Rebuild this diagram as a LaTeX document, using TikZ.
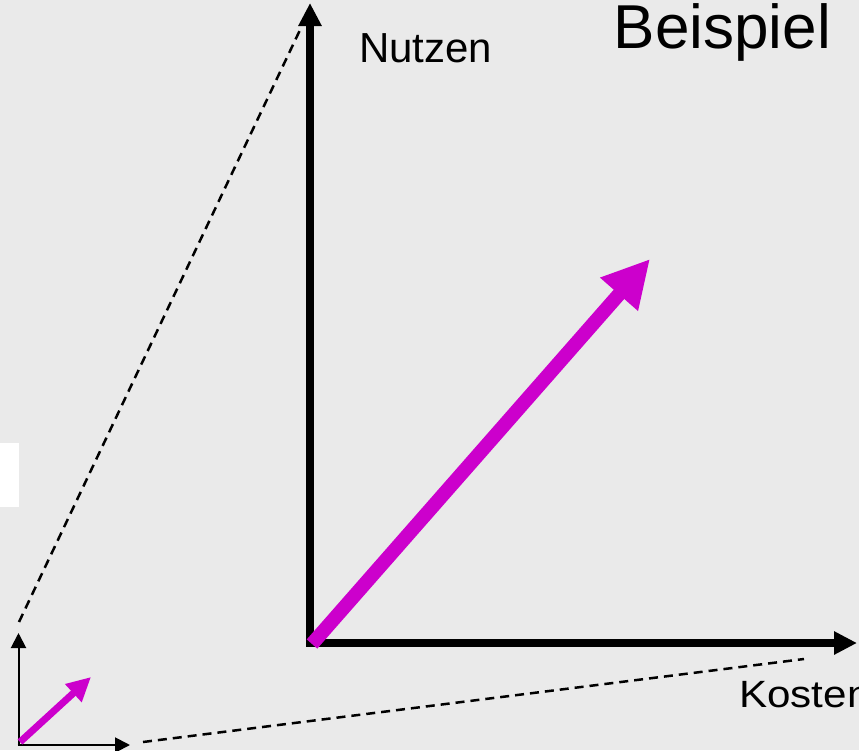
\documentclass[tikz,border=0pt]{standalone}
\usepackage{fontspec}
\setmainfont{Liberation Sans}
\usetikzlibrary{arrows.meta}
\definecolor{bg}{HTML}{EAEAEA}
\definecolor{mag}{HTML}{CC00CC}
\tikzset{
  bigaxis/.style={line width=8pt,-{Triangle[length=23pt,width=22pt]}},
  smallaxis/.style={line width=2pt,-{Triangle[length=15pt,width=15pt]}},
  bigvec/.style={mag,line width=14pt,-{Triangle[length=47pt,width=47pt]}},
  smallvec/.style={mag,line width=7pt,-{Triangle[length=24pt,width=23pt]}},
  dashline/.style={line width=2.5pt,dash pattern=on 9pt off 6pt},
  lbl/.style={inner sep=0pt,anchor=base west}
}
\begin{document}
\begin{tikzpicture}[x=1pt,y=-1pt]
\fill[bg] (0,0) rectangle (859,750);
\useasboundingbox (0,0) rectangle (859,750);
\fill[white] (0,443) rectangle (19,507);
% coordinates
\coordinate (O) at (310,643);
\coordinate (Ytip) at (310,3);
\coordinate (Xtip) at (857,643);
\coordinate (Vs) at (312,644);
\coordinate (Vt) at (650,259);
\coordinate (o) at (18.5,745);
\coordinate (ytip) at (18.5,633);
\coordinate (xtip) at (130,745);
\coordinate (vs) at (20,742);
\coordinate (vt) at (91,677);
\coordinate (d1a) at (19,622);
\coordinate (d1b) at (300,30);
\coordinate (d2a) at (143,742);
\coordinate (d2b) at (804,659);
% dashed projection lines
\draw[dashline] (d1a) -- (d1b);
\draw[dashline] (d2a) -- (d2b);
% big axes
\draw[bigaxis] ([yshift=4pt]O) -- (Ytip);
\draw[bigaxis] ([xshift=-4pt]O) -- (Xtip);
% small axes
\draw[smallaxis] ([yshift=1pt]o) -- (ytip);
\draw[smallaxis] ([xshift=-1pt]o) -- (xtip);
% vectors
\draw[bigvec] (Vs) -- (Vt);
\draw[smallvec] (vs) -- (vt);
% labels
\node[lbl,font=\fontsize{42}{50}\selectfont] (nutzen) at (359,62) {Nutzen};
\node[lbl,font=\fontsize{62}{74}\selectfont] (beispiel) at (613.5,48) {Beispiel};
\node[lbl,font=\fontsize{38}{46}\selectfont] (kosten) at (739,707) {\scalebox{1.11}[1]{Kosten}};
\end{tikzpicture}
\end{document}
